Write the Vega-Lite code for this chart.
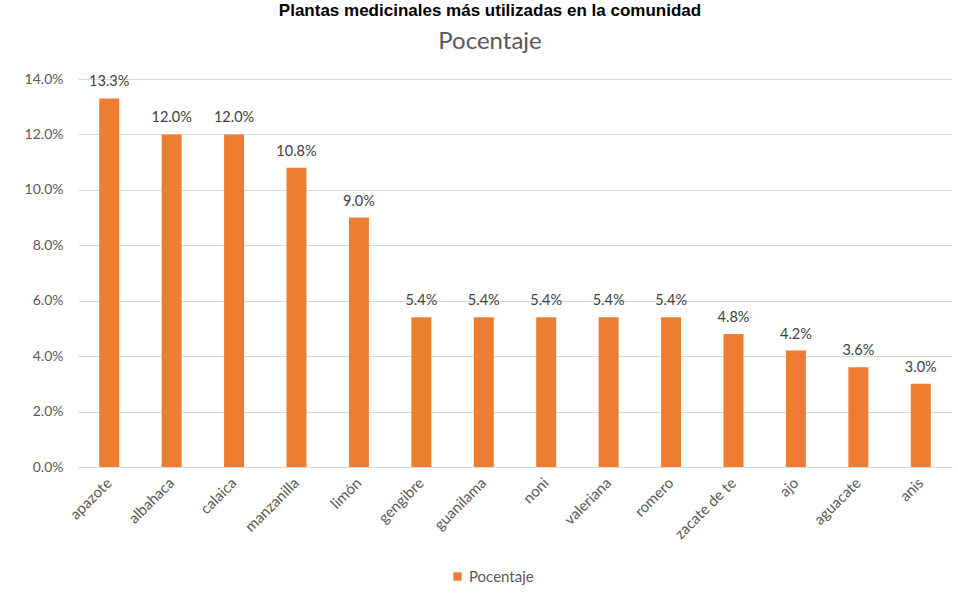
{
  "$schema": "https://vega.github.io/schema/vega-lite/v6.json",
  "width": 874,
  "height": 388,
  "autosize": {"type": "none"},
  "padding": {"left": 78, "top": 79, "right": 6, "bottom": 131},
  "background": "white",
  "title": {
    "text": "Plantas medicinales más utilizadas en la comunidad",
    "subtitle": "Pocentaje",
    "anchor": "middle",
    "dx": -25,
    "offset": 17,
    "font": "Liberation Sans",
    "fontSize": 17,
    "fontWeight": "bold",
    "color": "#000000",
    "subtitleFont": "Lato",
    "subtitleFontSize": 24,
    "subtitleColor": "#595959",
    "subtitlePadding": 10
  },
  "config": {
    "view": {"stroke": null},
    "font": "Lato"
  },
  "data": {
    "values": [
      {"planta": "apazote", "pct": 0.133, "serie": "Pocentaje"},
      {"planta": "albahaca", "pct": 0.120, "serie": "Pocentaje"},
      {"planta": "calaica", "pct": 0.120, "serie": "Pocentaje"},
      {"planta": "manzanilla", "pct": 0.108, "serie": "Pocentaje"},
      {"planta": "limón", "pct": 0.090, "serie": "Pocentaje"},
      {"planta": "gengibre", "pct": 0.054, "serie": "Pocentaje"},
      {"planta": "guanilama", "pct": 0.054, "serie": "Pocentaje"},
      {"planta": "noni", "pct": 0.054, "serie": "Pocentaje"},
      {"planta": "valeriana", "pct": 0.054, "serie": "Pocentaje"},
      {"planta": "romero", "pct": 0.054, "serie": "Pocentaje"},
      {"planta": "zacate de te", "pct": 0.048, "serie": "Pocentaje"},
      {"planta": "ajo", "pct": 0.042, "serie": "Pocentaje"},
      {"planta": "aguacate", "pct": 0.036, "serie": "Pocentaje"},
      {"planta": "anis", "pct": 0.030, "serie": "Pocentaje"}
    ]
  },
  "encoding": {
    "x": {
      "field": "planta",
      "type": "nominal",
      "sort": null,
      "scale": {"paddingInner": 0.68, "paddingOuter": 0.34},
      "axis": {
        "title": null,
        "labelAngle": -45,
        "labelAlign": "right",
        "labelBaseline": "middle",
        "labelFontSize": 15,
        "labelColor": "#595959",
        "labelPadding": 13,
        "ticks": false,
        "domainColor": "#d9d9d9",
        "domainWidth": 1
      }
    },
    "y": {
      "field": "pct",
      "type": "quantitative",
      "scale": {"domain": [0, 0.14], "nice": false},
      "axis": {
        "title": null,
        "format": ".1%",
        "values": [0, 0.02, 0.04, 0.06, 0.08, 0.1, 0.12, 0.14],
        "domain": false,
        "ticks": false,
        "gridColor": "#d9d9d9",
        "gridWidth": 1,
        "labelFontSize": 14,
        "labelColor": "#595959",
        "labelPadding": 15
      }
    }
  },
  "layer": [
    {
      "mark": {"type": "bar"},
      "encoding": {
        "color": {
          "field": "serie",
          "type": "nominal",
          "scale": {"range": ["#ED7D31"]},
          "legend": {
            "title": null,
            "orient": "none",
            "legendX": 372,
            "legendY": 490,
            "symbolType": "square",
            "symbolSize": 70,
            "symbolStrokeWidth": 0,
            "labelFontSize": 15,
            "labelColor": "#595959",
            "labelOffset": 4
          }
        }
      }
    },
    {
      "mark": {"type": "text", "dy": -9, "fontSize": 14.5, "color": "#404040", "baseline": "bottom"},
      "encoding": {
        "text": {"field": "pct", "type": "quantitative", "format": ".1%"}
      }
    }
  ]
}
